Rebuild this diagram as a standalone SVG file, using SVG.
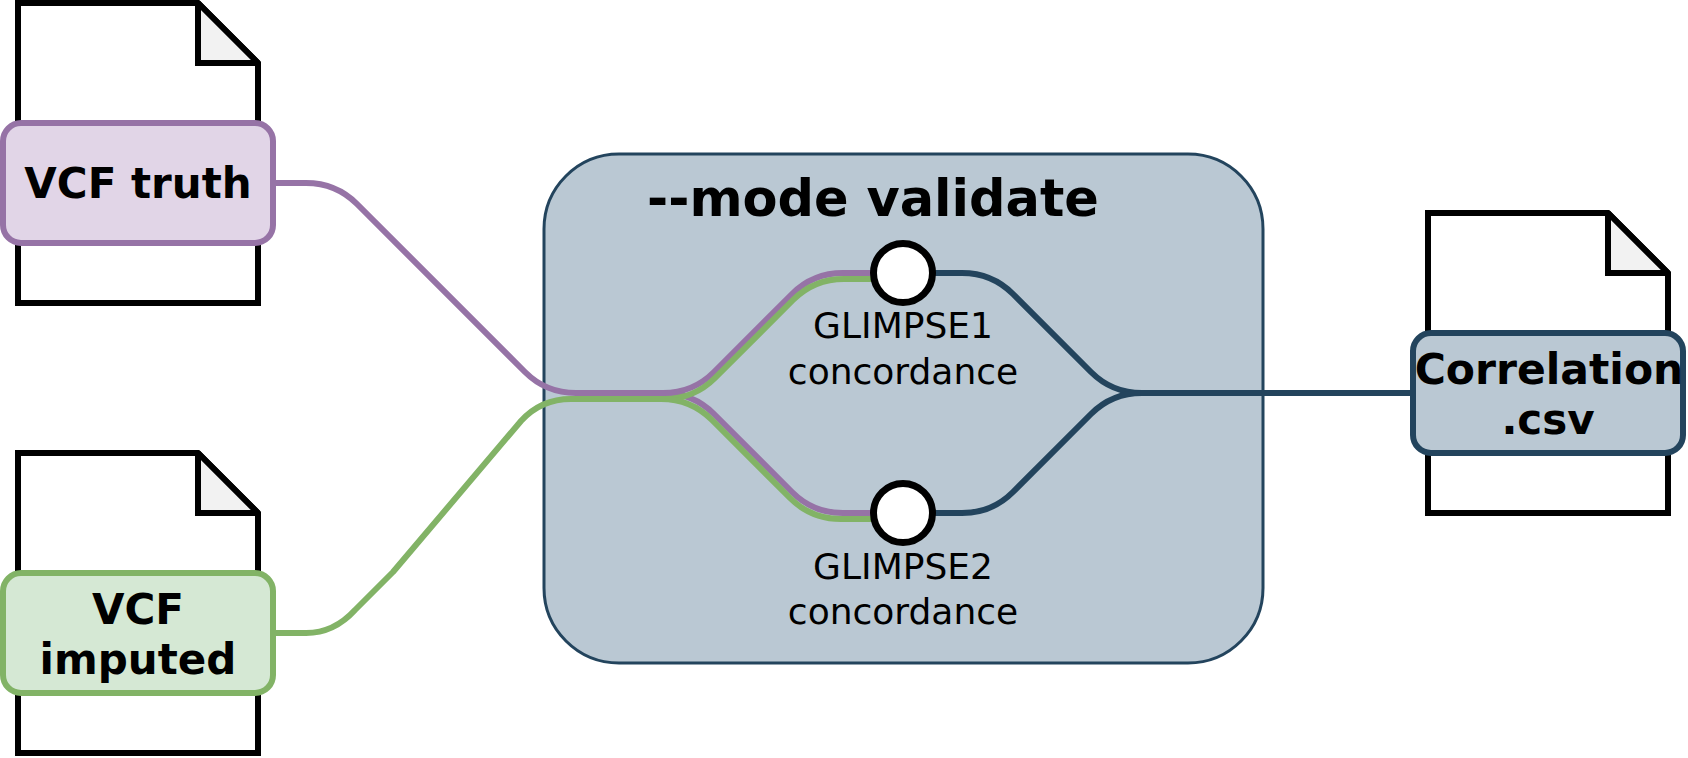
<svg xmlns="http://www.w3.org/2000/svg" width="1688" height="758" viewBox="0 0 1688 758">
<style>
.file{fill:#fff;stroke:#000;stroke-width:6}
.fold{fill:#f2f2f2;stroke:#000;stroke-width:6;stroke-miterlimit:2}
.lab{font-family:"DejaVu Sans",sans-serif;font-weight:bold;font-size:42px;text-anchor:middle;fill:#000}
.sub{font-family:"DejaVu Sans",sans-serif;font-size:36px;text-anchor:middle;fill:#000}
.c{fill:none;stroke-width:6;stroke-linejoin:round}
.p{stroke:#9673a6}.g{stroke:#82b366}.d{stroke:#23445d}
.sample{fill:#fff;stroke:#000;stroke-width:7}
</style>
<g id="group-validate">
<rect x="544" y="154" width="719" height="509" rx="75" ry="75" fill="#bac8d3" stroke="#23445d" stroke-width="3"/>
<text class="lab" x="873" y="216" style="font-size:51px">--mode validate</text>
</g>
<g id="file-truth">
<path class="file" d="M18 3H198L258 63V303H18Z"/><path class="fold" d="M198 3V63H258Z"/>
</g>
<g id="file-imputed">
<path class="file" d="M18 453H198L258 513V753H18Z"/><path class="fold" d="M198 453V513H258Z"/>
</g>
<g id="file-correlation">
<path class="file" d="M1428 213H1608L1668 273V513H1428Z"/><path class="fold" d="M1608 213V273H1668Z"/>
</g>
<g id="connectors">
<path class="c p" d="M276 183H306Q336 183 357 204L525 372Q546 393 576 393H663Q693 393 714 372L792 294Q813 273 843 273H873"/>
<path class="c p" d="M576 393H663Q693 393 714 414L792 492Q813 513 843 513H873"/>
<path class="c g" d="M276 633H306Q334 633 355 610L393 572L521 421Q541 399 571 399H664Q694 399 715 378L793 300Q814 279 844 279H873"/>
<path class="c g" d="M571 399H661Q691 399 712 420L790 498Q811 519 841 519H873"/>
<path class="c d" d="M932 273H962Q992 273 1013 294L1091 372Q1112 393 1142 393H1413"/>
<path class="c d" d="M932 513H962Q992 513 1013 492L1091 414Q1112 393 1142 393"/>
</g>
<g id="box-truth">
<rect x="3" y="123" width="270" height="120" rx="18" fill="#e1d5e7" stroke="#9673a6" stroke-width="6"/>
<text class="lab" x="138" y="198">VCF truth</text>
</g>
<g id="box-imputed">
<rect x="3" y="573" width="270" height="120" rx="18" fill="#d5e8d4" stroke="#82b366" stroke-width="6"/>
<text class="lab" x="138" y="624">VCF</text><text class="lab" x="138" y="674">imputed</text>
</g>
<g id="box-correlation">
<rect x="1413" y="333" width="270" height="120" rx="18" fill="#bac8d3" stroke="#23445d" stroke-width="6"/>
<text class="lab" x="1549" y="384" style="font-size:42.5px">Correlation</text><text class="lab" x="1548" y="434">.csv</text>
</g>
<g id="glimpse1">
<circle class="sample" cx="903" cy="273" r="29.5"/>
<text class="sub" x="903" y="338">GLIMPSE1</text><text class="sub" x="903" y="384">concordance</text>
</g>
<g id="glimpse2">
<circle class="sample" cx="903" cy="513" r="29.5"/>
<text class="sub" x="903" y="579">GLIMPSE2</text><text class="sub" x="903" y="624">concordance</text>
</g>
</svg>
